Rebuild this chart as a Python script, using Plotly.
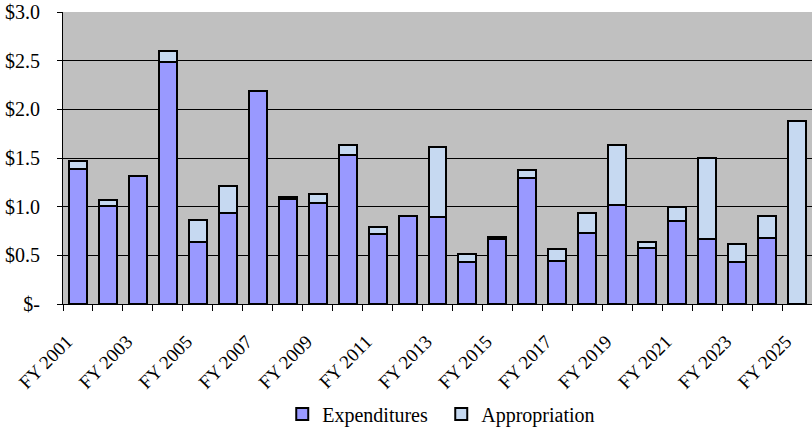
import plotly.graph_objects as go

years = ["FY %d" % y for y in range(2001, 2026)]
expenditures = [1.39, 1.01, 1.32, 2.485, 0.64, 0.93, 2.19, 1.08, 1.04, 1.53,
                0.72, 0.905, 0.89, 0.43, 0.67, 1.29, 0.44, 0.73, 1.02, 0.58,
                0.85, 0.665, 0.435, 0.68, 0.0]
appropriation = [0.08, 0.06, 0.0, 0.115, 0.22, 0.28, 0.0, 0.02, 0.09, 0.10,
                 0.07, 0.0, 0.72, 0.085, 0.02, 0.09, 0.12, 0.20, 0.61, 0.06,
                 0.15, 0.835, 0.185, 0.22, 1.885]
tick_labels = [y if i % 2 == 0 else "" for i, y in enumerate(years)]
y_ticks = [0, 0.5, 1.0, 1.5, 2.0, 2.5, 3.0]
y_tick_labels = ["$-", "$0.5", "$1.0", "$1.5", "$2.0", "$2.5", "$3.0"]

font = "Liberation Serif"

fig = go.Figure()
fig.add_trace(go.Bar(x=years, y=expenditures, name="Expenditures",
                     marker=dict(color="#9999FF", line=dict(color="#000000", width=2))))
fig.add_trace(go.Bar(x=years, y=appropriation, name="Appropriation",
                     marker=dict(color="#C6D9F1", line=dict(color="#000000", width=2))))

fig.update_layout(
    width=812, height=430,
    barmode="stack", bargap=0.4,
    paper_bgcolor="white", plot_bgcolor="#C0C0C0",
    margin=dict(l=63, r=0, t=12, b=126, autoexpand=False),
    font=dict(family=font, size=20, color="black"),
    showlegend=True,
    legend=dict(orientation="h", x=0.505, xanchor="center", y=-0.31, yanchor="top",
                traceorder="normal",
                font=dict(family=font, size=20), entrywidth=114, entrywidthmode="pixels",
                bgcolor="rgba(0,0,0,0)"),
)
fig.update_xaxes(type="category", tickmode="array", tickvals=years, ticktext=tick_labels,
                 tickson="boundaries", ticks="outside", ticklen=6, tickcolor="black",
                 showline=True, linecolor="black", linewidth=1, tickangle=-45,
                 showgrid=False, automargin=False, ticklabelshift=-11, ticklabelstandoff=18,
                 tickfont=dict(family=font, size=19))
fig.update_yaxes(range=[0, 3.0], tickmode="array", tickvals=y_ticks, ticktext=y_tick_labels,
                 ticks="outside", ticklen=5, tickcolor="black", showline=True,
                 linecolor="black", linewidth=1, showgrid=True, gridcolor="black",
                 gridwidth=1, zeroline=False, ticklabelstandoff=13, automargin=False,
                 tickfont=dict(family=font, size=20))

fig.write_html("out.html", post_script="document.body.style.margin='0';",
               config={"displayModeBar": False})
